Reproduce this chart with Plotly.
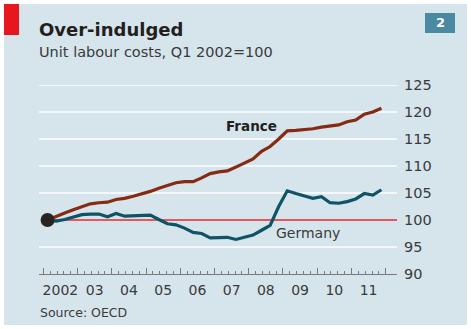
import plotly.graph_objects as go

# ---- data ----
quarters = [2002.125 + 0.25 * k for k in range(40)]  # Q1 2002 .. Q4 2011 (mid-quarter)
france = [100.0, 100.7, 101.3, 101.9, 102.4, 103.0, 103.2, 103.3, 103.8, 104.0,
          104.4, 104.8, 105.3, 105.9, 106.4, 106.9, 107.1, 107.1, 107.8, 108.6,
          108.9, 109.1, 109.8, 110.6, 111.3, 112.7, 113.6, 115.0, 116.5, 116.6,
          116.7, 116.9, 117.2, 117.4, 117.6, 118.2, 118.5, 119.6, 120.0, 120.7]
germany = [100.0, 99.8, 100.1, 100.5, 101.0, 101.1, 101.1, 100.6, 101.2, 100.7,
           100.8, 100.9, 100.9, 100.1, 99.3, 99.1, 98.5, 97.7, 97.5, 96.7,
           96.8, 96.8, 96.4, 96.8, 97.2, 98.1, 99.0, 102.5, 105.4, 104.9,
           104.4, 104.0, 104.3, 103.2, 103.1, 103.4, 103.9, 104.9, 104.6, 105.6]
base_value = 100
year_labels = ["2002", "03", "04", "05", "06", "07", "08", "09", "10", "11"]
year_mid = [2002.5 + i for i in range(10)]
year_starts = [2002 + i for i in range(11)]
y_ticks = [90, 95, 100, 105, 110, 115, 120, 125]
grid_vals = [95, 105, 110, 115, 120, 125]

W, H = 471, 329
L, R, T, B = 39, 74, 85, 55
X_RANGE = [2001.874, 2012.33]
Y_RANGE = [90, 125]

FONT = "DejaVu Sans"
TXT = "#3a3a3a"
BG = "#d6e4ec"

def px(x, y):
    """pixel -> paper coords"""
    pw = W - L - R
    ph = H - T - B
    return (x - L) / pw, (H - B - y) / ph

fig = go.Figure()

# base line at 100
fig.add_trace(go.Scatter(x=[quarters[0], X_RANGE[1]], y=[base_value, base_value],
                         mode="lines", line=dict(color="#e62a33", width=1.3),
                         hoverinfo="skip", showlegend=False))
fig.add_trace(go.Scatter(x=quarters, y=france, mode="lines",
                         line=dict(color="#862a14", width=3.2), showlegend=False, name="France"))
fig.add_trace(go.Scatter(x=quarters, y=germany, mode="lines",
                         line=dict(color="#0f5367", width=3.2), showlegend=False, name="Germany"))
fig.add_trace(go.Scatter(x=[quarters[0]], y=[base_value], mode="markers",
                         marker=dict(color="#2a2420", size=14), showlegend=False))

# shapes: background panel, red flag, number box
x0, y0 = px(4, 4)
x1, y1 = px(467, 325)
shapes = [
    dict(type="rect", xref="paper", yref="paper", x0=x0, y0=y1, x1=x1, y1=y0,
         fillcolor=BG, line=dict(width=0), layer="below"),
]
rx0, ry0 = px(4, 4)
rx1, ry1 = px(19, 35)
shapes.append(dict(type="rect", xref="paper", yref="paper", x0=rx0, y0=ry1, x1=rx1, y1=ry0,
                   fillcolor="#e8161f", line=dict(width=0), layer="below"))
bx0, by0 = px(425, 13)
bx1, by1 = px(455, 33)
shapes.append(dict(type="rect", xref="paper", yref="paper", x0=bx0, y0=by1, x1=bx1, y1=by0,
                   fillcolor="#4b88a1", line=dict(width=0), layer="below"))
# white gridlines (100 is replaced by the red base line)
for g in grid_vals:
    shapes.append(dict(type="line", xref="paper", yref="y", x0=0, x1=1, y0=g, y1=g,
                       line=dict(color="white", width=1.5), layer="below"))

annotations = []
tx, ty = px(37, 29)
annotations.append(dict(xref="paper", yref="paper", x=tx, y=ty, xanchor="left", yanchor="middle",
                        text="<b>Over-indulged</b>", showarrow=False,
                        font=dict(family=FONT, size=18, color="#231f20")))
sx, sy = px(37, 52)
annotations.append(dict(xref="paper", yref="paper", x=sx, y=sy, xanchor="left", yanchor="middle",
                        text="Unit labour costs, Q1 2002=100", showarrow=False,
                        font=dict(family=FONT, size=14.5, color=TXT)))
nx, ny = px(440, 23)
annotations.append(dict(xref="paper", yref="paper", x=nx, y=ny, xanchor="center", yanchor="middle",
                        text="<b>2</b>", showarrow=False,
                        font=dict(family=FONT, size=13, color="white")))
ox, oy = px(38, 312)
annotations.append(dict(xref="paper", yref="paper", x=ox, y=oy, xanchor="left", yanchor="middle",
                        text="Source: OECD", showarrow=False,
                        font=dict(family=FONT, size=12.5, color=TXT)))
annotations.append(dict(x=2008.07, y=117.5, text="<b>France</b>", showarrow=False,
                        xanchor="center", yanchor="middle",
                        font=dict(family=FONT, size=13.5, color="#231f20")))
annotations.append(dict(x=2009.74, y=97.65, text="Germany", showarrow=False,
                        xanchor="center", yanchor="middle",
                        font=dict(family=FONT, size=14, color=TXT)))

minor_vals = [2002 + 0.2 * i for i in range(51)]

fig.update_layout(
    width=W, height=H,
    margin=dict(l=L, r=R, t=T, b=B, pad=0),
    paper_bgcolor="white",
    plot_bgcolor="rgba(0,0,0,0)",
    shapes=shapes,
    annotations=annotations,
    xaxis=dict(range=X_RANGE, tickmode="array", tickvals=year_mid, ticktext=year_labels,
               ticks="", showgrid=False, zeroline=False, showline=True,
               linecolor="#7a7a7a", linewidth=1, ticklabelstandoff=3,
               tickfont=dict(family=FONT, size=14, color=TXT), fixedrange=True),
    xaxis2=dict(range=X_RANGE, overlaying="x", anchor="y", side="bottom",
                tickmode="array", tickvals=year_starts, ticks="inside", ticklen=6,
                tickcolor="#7a7a7a", tickwidth=1, showticklabels=False,
                showgrid=False, zeroline=False, showline=False,
                minor=dict(tickmode="array", tickvals=minor_vals, ticks="inside",
                           ticklen=3, tickcolor="#7a7a7a", tickwidth=1, showgrid=False)),
    yaxis=dict(range=Y_RANGE, side="right", tickmode="array", tickvals=y_ticks,
               ticks="", showgrid=False,
               zeroline=False, showline=False, ticklabelstandoff=6,
               tickfont=dict(family=FONT, size=14.5, color=TXT)),
    showlegend=False,
)
# dummy trace to activate xaxis2
fig.add_trace(go.Scatter(x=[X_RANGE[0]], y=[Y_RANGE[0]], xaxis="x2", mode="markers",
                         marker=dict(opacity=0), hoverinfo="skip", showlegend=False))

fig.write_html("out.html")
